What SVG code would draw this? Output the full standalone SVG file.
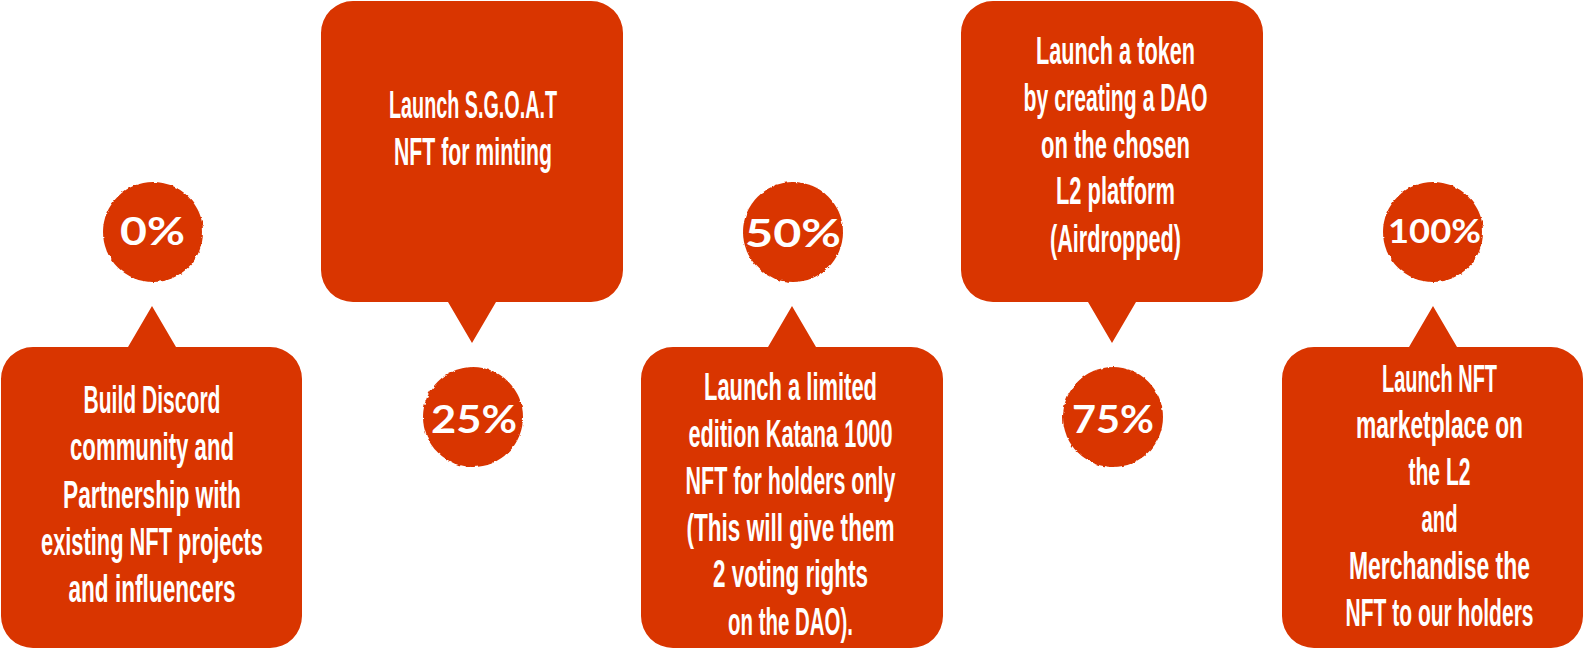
<svg xmlns="http://www.w3.org/2000/svg" width="1584" height="650" viewBox="0 0 1584 650">
<style>
.bub{fill:#D93500}
.dot{fill:#D93500;filter:url(#rough)}
.t{font-family:"Liberation Sans Narrow","Liberation Sans",Arial,sans-serif;font-weight:bold;font-size:39px;fill:#fff;text-anchor:middle}
.p{font-family:Lato,"Open Sans",sans-serif;font-weight:bold;font-size:39px;fill:#fff;text-anchor:middle}
</style>
<defs>
<filter id="rough" x="-10%" y="-10%" width="120%" height="120%">
<feTurbulence type="fractalNoise" baseFrequency="0.2" numOctaves="2" seed="3"/>
<feDisplacementMap in="SourceGraphic" scale="3" xChannelSelector="R" yChannelSelector="G"/>
</filter>
</defs>
<rect width="1584" height="650" fill="#fff"/>

<g id="m0">
<circle class="dot" cx="153" cy="232" r="50"/>
<text class="p" x="152.5" y="245" textLength="65" lengthAdjust="spacingAndGlyphs">0%</text>
<path class="bub" d="M33,347 H128 L152,306 L176,347 H270 A32,32 0 0 1 302,379 V616 A32,32 0 0 1 270,648 H33 A32,32 0 0 1 1,616 V379 A32,32 0 0 1 33,347 Z"/>
<text class="t" x="152" y="413" textLength="137" lengthAdjust="spacingAndGlyphs">Build Discord</text>
<text class="t" x="152" y="460" textLength="164" lengthAdjust="spacingAndGlyphs">community and</text>
<text class="t" x="152" y="508" textLength="178" lengthAdjust="spacingAndGlyphs">Partnership with</text>
<text class="t" x="152" y="555" textLength="222" lengthAdjust="spacingAndGlyphs">existing NFT projects</text>
<text class="t" x="152" y="602" textLength="167" lengthAdjust="spacingAndGlyphs">and influencers</text>
</g>

<g id="m25">
<path class="bub" d="M353,1 H591 A32,32 0 0 1 623,33 V270 A32,32 0 0 1 591,302 H496 L472,343 L448,302 H353 A32,32 0 0 1 321,270 V33 A32,32 0 0 1 353,1 Z"/>
<text class="t" x="473" y="118" textLength="168" lengthAdjust="spacingAndGlyphs">Launch S.G.O.A.T</text>
<text class="t" x="473" y="165" textLength="158" lengthAdjust="spacingAndGlyphs">NFT for minting</text>
<circle class="dot" cx="473" cy="417" r="50"/>
<text class="p" x="474" y="433" textLength="86" lengthAdjust="spacingAndGlyphs">25%</text>
</g>

<g id="m50">
<circle class="dot" cx="793" cy="232" r="50"/>
<text class="p" x="793" y="247" textLength="96" lengthAdjust="spacingAndGlyphs">50%</text>
<path class="bub" d="M673,347 H768 L792,306 L816,347 H911 A32,32 0 0 1 943,379 V616 A32,32 0 0 1 911,648 H673 A32,32 0 0 1 641,616 V379 A32,32 0 0 1 673,347 Z"/>
<text class="t" x="790.5" y="400" textLength="173" lengthAdjust="spacingAndGlyphs">Launch a limited</text>
<text class="t" x="790.5" y="447" textLength="204" lengthAdjust="spacingAndGlyphs">edition Katana 1000</text>
<text class="t" x="790.5" y="494" textLength="210" lengthAdjust="spacingAndGlyphs">NFT for holders only</text>
<text class="t" x="790.5" y="541" textLength="208" lengthAdjust="spacingAndGlyphs">(This will give them</text>
<text class="t" x="790.5" y="587" textLength="155" lengthAdjust="spacingAndGlyphs">2 voting rights</text>
<text class="t" x="790.5" y="635" textLength="125" lengthAdjust="spacingAndGlyphs">on the DAO).</text>
</g>

<g id="m75">
<path class="bub" d="M993,1 H1231 A32,32 0 0 1 1263,33 V270 A32,32 0 0 1 1231,302 H1136 L1112,343 L1088,302 H993 A32,32 0 0 1 961,270 V33 A32,32 0 0 1 993,1 Z"/>
<text class="t" x="1115.5" y="64" textLength="159" lengthAdjust="spacingAndGlyphs">Launch a token</text>
<text class="t" x="1115.5" y="111" textLength="184" lengthAdjust="spacingAndGlyphs">by creating a DAO</text>
<text class="t" x="1115.5" y="158" textLength="149" lengthAdjust="spacingAndGlyphs">on the chosen</text>
<text class="t" x="1115.5" y="204" textLength="119" lengthAdjust="spacingAndGlyphs">L2 platform</text>
<text class="t" x="1115.5" y="252" textLength="131" lengthAdjust="spacingAndGlyphs">(Airdropped)</text>
<circle class="dot" cx="1113" cy="417" r="50"/>
<text class="p" x="1113" y="433" textLength="82" lengthAdjust="spacingAndGlyphs">75%</text>
</g>

<g id="m100">
<circle class="dot" cx="1433" cy="232" r="50"/>
<text class="p" x="1434.5" y="243" style="font-size:33px" textLength="93" lengthAdjust="spacingAndGlyphs">100%</text>
<path class="bub" d="M1314,347 H1409 L1433,306 L1457,347 H1551 A32,32 0 0 1 1583,379 V616 A32,32 0 0 1 1551,648 H1314 A32,32 0 0 1 1282,616 V379 A32,32 0 0 1 1314,347 Z"/>
<text class="t" x="1439.5" y="392" textLength="115" lengthAdjust="spacingAndGlyphs">Launch NFT</text>
<text class="t" x="1439.5" y="438" textLength="167" lengthAdjust="spacingAndGlyphs">marketplace on</text>
<text class="t" x="1439.5" y="485" textLength="62" lengthAdjust="spacingAndGlyphs">the L2</text>
<text class="t" x="1439.5" y="532" textLength="36" lengthAdjust="spacingAndGlyphs">and</text>
<text class="t" x="1439.5" y="579" textLength="181" lengthAdjust="spacingAndGlyphs">Merchandise the</text>
<text class="t" x="1439.5" y="626" textLength="188" lengthAdjust="spacingAndGlyphs">NFT to our holders</text>
</g>
</svg>
